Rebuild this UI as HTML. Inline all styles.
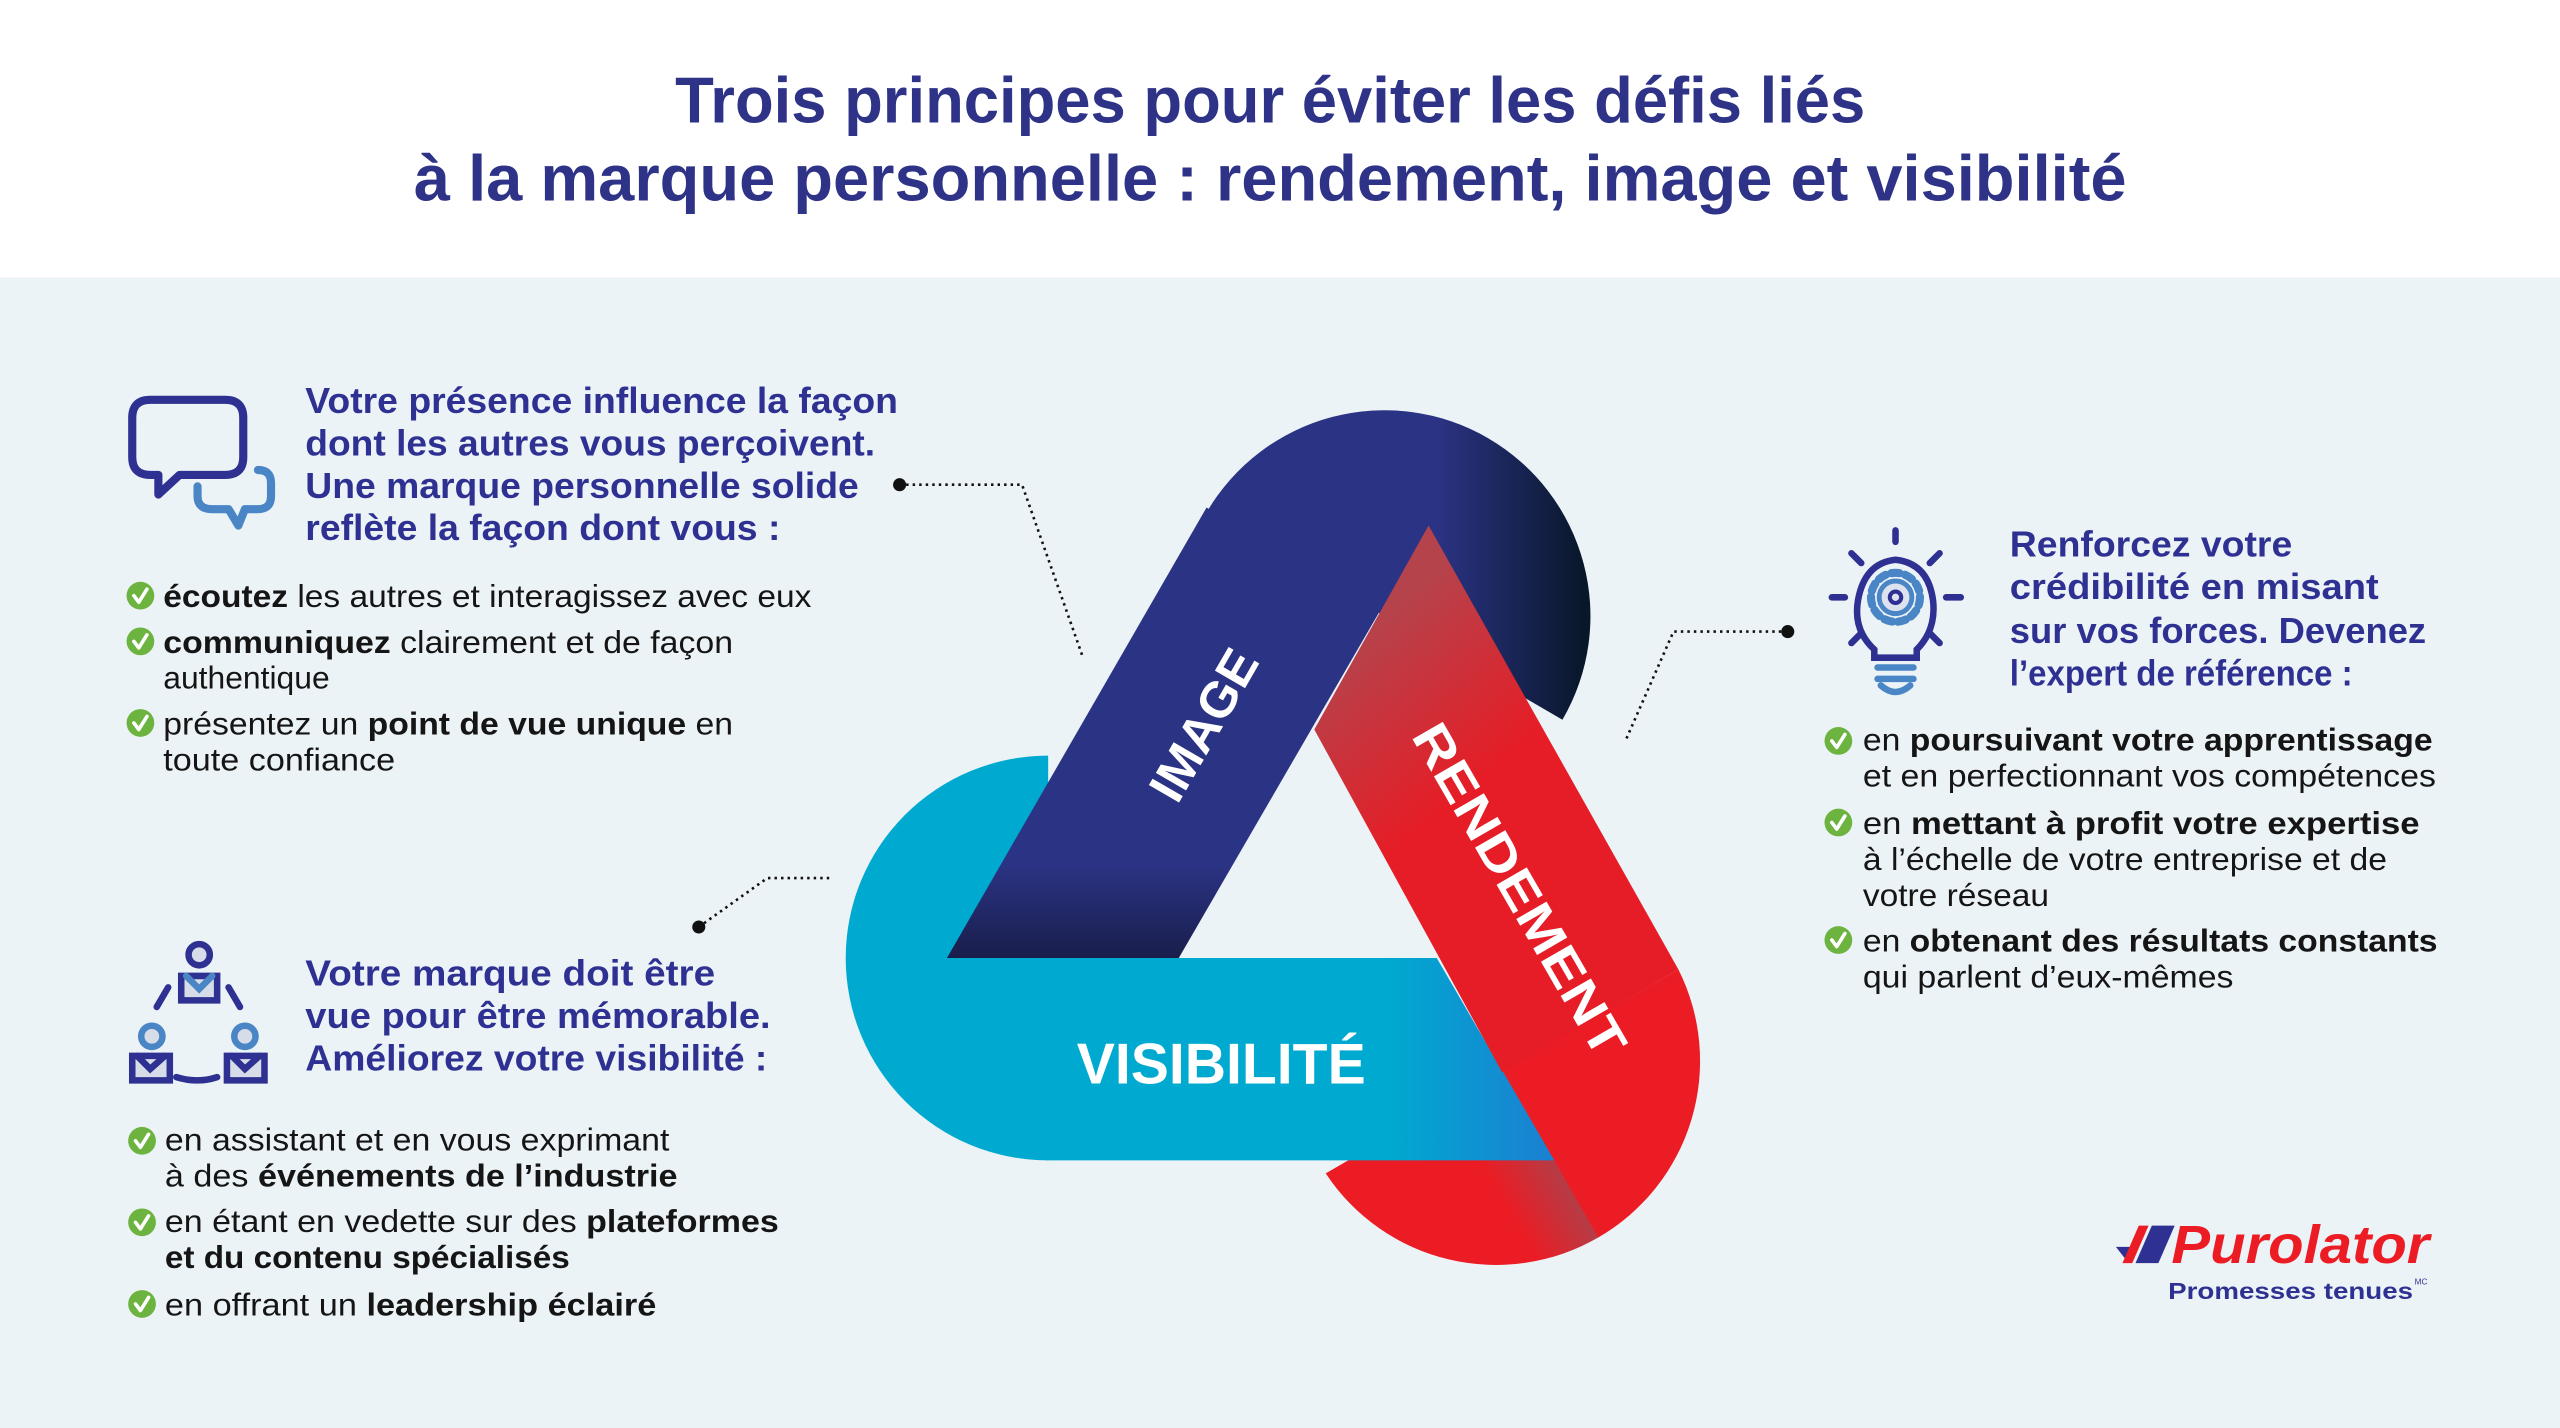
<!DOCTYPE html>
<html><head><meta charset="utf-8">
<style>
html,body{margin:0;padding:0;background:#ecf3f7;}
svg{display:block;}
text{font-family:"Liberation Sans",sans-serif;}
.h{font-weight:bold;fill:#2e3192;font-size:22px;}
.b{fill:#151515;font-size:19.5px;}
.b tspan.k{font-weight:bold;}
</style></head>
<body>
<svg width="2560" height="1428" viewBox="0 0 1568 875" preserveAspectRatio="none" xmlns="http://www.w3.org/2000/svg">
<defs>
 <linearGradient id="navyCap" gradientUnits="userSpaceOnUse" x1="880" y1="0" x2="970" y2="0">
  <stop offset="0" stop-color="#2b3384"/><stop offset="1" stop-color="#08172a"/></linearGradient>
 <linearGradient id="navyBand" gradientUnits="userSpaceOnUse" x1="0" y1="530" x2="0" y2="590">
  <stop offset="0" stop-color="#2b3384"/><stop offset="1" stop-color="#181d48"/></linearGradient>
 <linearGradient id="redBand" gradientUnits="userSpaceOnUse" x1="830" y1="390" x2="905" y2="480">
  <stop offset="0" stop-color="#b5434c"/><stop offset="1" stop-color="#e61d26"/></linearGradient>
 <linearGradient id="redCap" gradientUnits="userSpaceOnUse" x1="934" y1="760" x2="1004" y2="720">
  <stop offset="0" stop-color="#ec1c24"/><stop offset="0.49" stop-color="#b53c46"/><stop offset="0.5" stop-color="#ec1c24"/><stop offset="1" stop-color="#ec1c24"/></linearGradient>
 <linearGradient id="cyanBand" gradientUnits="userSpaceOnUse" x1="850" y1="0" x2="955" y2="0">
  <stop offset="0" stop-color="#00a9d0"/><stop offset="1" stop-color="#1c7ed2"/></linearGradient>
</defs>

<!-- header -->
<rect x="0" y="0" width="1568" height="170" fill="#ffffff"/>
<text x="778" y="75" text-anchor="middle" font-size="40" font-weight="bold" fill="#2e3388" textLength="729" lengthAdjust="spacingAndGlyphs">Trois principes pour éviter les défis liés</text>
<text x="778" y="123" text-anchor="middle" font-size="40" font-weight="bold" fill="#2e3388" textLength="1049" lengthAdjust="spacingAndGlyphs">à la marque personnelle : rendement, image et visibilité</text>

<!-- triangle weave -->
<path d="M739,314 A126,126 0 0 1 957,441 Z" fill="url(#navyCap)"/>
<path d="M1028,594 A125,125 0 0 1 812,719 Z" fill="url(#redCap)"/>
<path d="M642,463 A124,124 0 0 0 642,711 Z" fill="#00a9d0"/>
<polygon points="641,587 880,587 952,711 641,711" fill="url(#cyanBand)"/>
<polygon points="875,322 1028,594 920,657 805,447" fill="url(#redBand)"/>
<polygon points="580,587 722,587 846,373 739,311" fill="url(#navyBand)"/>

<text transform="translate(737,444) rotate(-60)" text-anchor="middle" font-size="31" font-weight="bold" fill="#fff" y="11">IMAGE</text>
<text transform="translate(931,545) rotate(60)" text-anchor="middle" font-size="31" font-weight="bold" fill="#fff" y="11" textLength="230" lengthAdjust="spacingAndGlyphs">RENDEMENT</text>
<text x="748" y="664" text-anchor="middle" font-size="35" font-weight="bold" fill="#fff" textLength="177" lengthAdjust="spacingAndGlyphs">VISIBILITÉ</text>

<!-- connectors -->
<g stroke="#111" stroke-width="1.6" stroke-dasharray="1.5 2.5" fill="none">
 <polyline points="551,297 626,297 663,402"/>
 <polyline points="428,568 470,538 510,538"/>
 <polyline points="1095,387 1025,387 996,453"/>
</g>
<circle cx="551" cy="297" r="4" fill="#111"/>
<circle cx="428" cy="568" r="4" fill="#111"/>
<circle cx="1095" cy="387" r="4" fill="#111"/>

<!-- icon: speech bubbles -->
<g fill="none" stroke-linejoin="round" stroke-linecap="round">
 <path d="M92,245 H138 Q149,245 149,256 V280 Q149,291 138,291 H110 L97,303 V291 H92 Q81,291 81,280 V256 Q81,245 92,245 Z" stroke="#2e3192" stroke-width="5"/>
 <path d="M121,298 V304 Q121,312 130,312 H140 L146,322 L150,312 H158 Q166,312 166,304 V296 Q166,288 158,288" stroke="#4a86c5" stroke-width="5"/>
</g>

<!-- icon: people -->
<g stroke-width="4" fill="#d7dde8" stroke-linecap="round">
 <circle cx="122" cy="585" r="6.5" stroke="#2e3192"/>
 <path d="M111,613 V598 H133 V613 Z" stroke="#2e3192"/>
 <path d="M114,598 L122,606 L130,598" stroke="#4a86c5" fill="none"/>
 <circle cx="93" cy="635" r="6.5" stroke="#4a86c5"/>
 <path d="M81,662 V647 H104 V662 Z" stroke="#2e3192"/>
 <path d="M84,647 L92,655 L101,647" stroke="#2e3192" fill="none"/>
 <circle cx="150" cy="635" r="6.5" stroke="#4a86c5"/>
 <path d="M139,662 V647 H162 V662 Z" stroke="#2e3192"/>
 <path d="M142,647 L150,655 L159,647" stroke="#2e3192" fill="none"/>
 <path d="M108,660 Q121,664 133,660" stroke="#2e3192" fill="none"/>
 <path d="M96,617 L103,605" stroke="#2e3192" fill="none"/>
 <path d="M147,617 L140,605" stroke="#2e3192" fill="none"/>
</g>

<!-- icon: lightbulb -->
<g stroke-linecap="round" fill="none">
 <g stroke="#2e3192" stroke-width="4">
  <line x1="1161" y1="325" x2="1161" y2="332"/>
  <line x1="1122" y1="366" x2="1130" y2="366"/>
  <line x1="1192" y1="366" x2="1201" y2="366"/>
  <line x1="1134" y1="339" x2="1140" y2="345"/>
  <line x1="1188" y1="339" x2="1182" y2="345"/>
  <line x1="1134" y1="394" x2="1140" y2="388"/>
  <line x1="1188" y1="394" x2="1182" y2="388"/>
  <path d="M1148,398 Q1135,386 1138,368 Q1142,345 1161,343 Q1181,345 1184,368 Q1186,386 1174,398 V403 H1148 Z" stroke-width="4"/>
 </g>
 <circle cx="1161" cy="366" r="15" stroke="#4a86c5" stroke-width="5" stroke-dasharray="5 3.5"/>
 <circle cx="1161" cy="366" r="10" stroke="#4a86c5" stroke-width="3" fill="#dde3ee"/>
 <circle cx="1161" cy="366" r="3.5" stroke="#2e3192" stroke-width="2.5"/>
 <path d="M1150,409 H1172 M1150,416 H1172" stroke="#4a86c5" stroke-width="4"/>
 <path d="M1152,420 Q1161,428 1170,420" stroke="#4a86c5" stroke-width="4"/>
</g>

<!-- checks -->
<g fill="#6cb33f">
 <circle cx="86" cy="365" r="8.5"/><circle cx="86" cy="393" r="8.5"/><circle cx="86" cy="443" r="8.5"/>
 <circle cx="87" cy="699" r="8.5"/><circle cx="87" cy="749" r="8.5"/><circle cx="87" cy="799" r="8.5"/>
 <circle cx="1126" cy="454" r="8.5"/><circle cx="1126" cy="504" r="8.5"/><circle cx="1126" cy="576" r="8.5"/>
</g>
<g stroke="#fff" stroke-width="2.2" fill="none" stroke-linecap="round" stroke-linejoin="round">
 <path d="M82,365 l3,4 l5,-8"/><path d="M82,393 l3,4 l5,-8"/><path d="M82,443 l3,4 l5,-8"/>
 <path d="M83,699 l3,4 l5,-8"/><path d="M83,749 l3,4 l5,-8"/><path d="M83,799 l3,4 l5,-8"/>
 <path d="M1122,454 l3,4 l5,-8"/><path d="M1122,504 l3,4 l5,-8"/><path d="M1122,576 l3,4 l5,-8"/>
</g>

<!-- block 1 -->
<text class="h" x="187" y="253" textLength="363" lengthAdjust="spacingAndGlyphs">Votre présence influence la façon</text>
<text class="h" x="187" y="279" textLength="349" lengthAdjust="spacingAndGlyphs">dont les autres vous perçoivent.</text>
<text class="h" x="187" y="305" textLength="339" lengthAdjust="spacingAndGlyphs">Une marque personnelle solide</text>
<text class="h" x="187" y="331" textLength="291" lengthAdjust="spacingAndGlyphs">reflète la façon dont vous :</text>

<text class="b" x="100" y="372" textLength="397" lengthAdjust="spacingAndGlyphs"><tspan class="k">écoutez</tspan>  les autres et interagissez avec eux</text>
<text class="b" x="100" y="400" textLength="349" lengthAdjust="spacingAndGlyphs"><tspan class="k">communiquez</tspan> clairement et de façon</text>
<text class="b" x="100" y="422">authentique</text>
<text class="b" x="100" y="450" textLength="349" lengthAdjust="spacingAndGlyphs">présentez un <tspan class="k">point de vue unique</tspan> en</text>
<text class="b" x="100" y="472" textLength="142" lengthAdjust="spacingAndGlyphs">toute confiance</text>

<!-- block 2 -->
<text class="h" x="187" y="604" textLength="251" lengthAdjust="spacingAndGlyphs">Votre marque doit être</text>
<text class="h" x="187" y="630" textLength="285" lengthAdjust="spacingAndGlyphs">vue pour être mémorable.</text>
<text class="h" x="187" y="656" textLength="283" lengthAdjust="spacingAndGlyphs">Améliorez votre visibilité :</text>

<text class="b" x="101" y="705" textLength="309" lengthAdjust="spacingAndGlyphs">en assistant et en vous exprimant</text>
<text class="b" x="101" y="727" textLength="314" lengthAdjust="spacingAndGlyphs">à des  <tspan class="k">événements de l’industrie</tspan></text>
<text class="b" x="101" y="755" textLength="376" lengthAdjust="spacingAndGlyphs">en étant en vedette sur des <tspan class="k">plateformes</tspan></text>
<text class="b" x="101" y="777" textLength="248" lengthAdjust="spacingAndGlyphs"><tspan class="k">et du contenu spécialisés</tspan></text>
<text class="b" x="101" y="806" textLength="301" lengthAdjust="spacingAndGlyphs">en offrant un <tspan class="k">leadership éclairé</tspan></text>

<!-- block 3 -->
<text class="h" x="1231" y="341" textLength="173" lengthAdjust="spacingAndGlyphs">Renforcez votre</text>
<text class="h" x="1231" y="367" textLength="226" lengthAdjust="spacingAndGlyphs">crédibilité en misant</text>
<text class="h" x="1231" y="394" textLength="255" lengthAdjust="spacingAndGlyphs">sur vos forces. Devenez</text>
<text class="h" x="1231" y="420" textLength="210" lengthAdjust="spacingAndGlyphs">l’expert de référence :</text>

<text class="b" x="1141" y="460" textLength="349" lengthAdjust="spacingAndGlyphs">en <tspan class="k">poursuivant votre apprentissage</tspan></text>
<text class="b" x="1141" y="482" textLength="351" lengthAdjust="spacingAndGlyphs">et en perfectionnant vos compétences</text>
<text class="b" x="1141" y="511" textLength="341" lengthAdjust="spacingAndGlyphs">en <tspan class="k">mettant à profit votre expertise</tspan></text>
<text class="b" x="1141" y="533" textLength="321" lengthAdjust="spacingAndGlyphs">à l’échelle de votre entreprise et de</text>
<text class="b" x="1141" y="555" textLength="114" lengthAdjust="spacingAndGlyphs">votre réseau</text>
<text class="b" x="1141" y="583" textLength="352" lengthAdjust="spacingAndGlyphs">en <tspan class="k">obtenant des résultats constants</tspan></text>
<text class="b" x="1141" y="605" textLength="227" lengthAdjust="spacingAndGlyphs">qui parlent d’eux-mêmes</text>

<!-- logo -->
<polygon points="1296,764 1308,764 1303,773" fill="#2e3192"/>
<polygon points="1310,751 1316,751 1306,774 1300,774" fill="#ec1c24"/>
<polygon points="1318,751 1332,751 1322,774 1308,774" fill="#2e3192"/>
<text x="1330" y="774" font-size="33" font-weight="bold" font-style="italic" fill="#ec1c24" textLength="158" lengthAdjust="spacingAndGlyphs">Purolator</text>
<text x="1328" y="796" font-size="14" font-weight="bold" fill="#2e3192" textLength="150" lengthAdjust="spacingAndGlyphs">Promesses tenues</text>
<text x="1479" y="787" font-size="5" fill="#2e3192">MC</text>
</svg>
</body></html>
